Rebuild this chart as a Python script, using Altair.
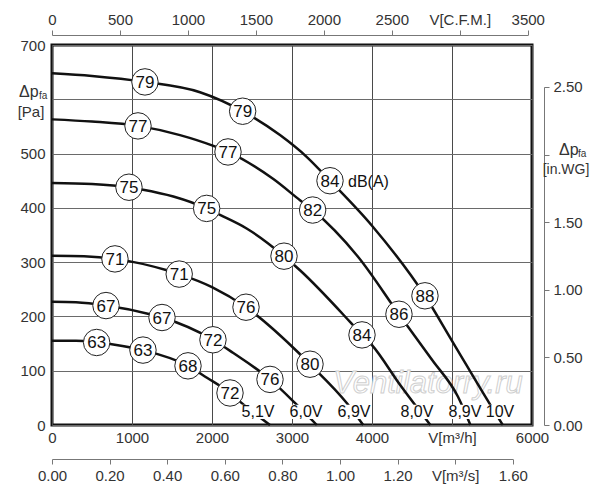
import altair as alt
import pandas as pd

FONT = "Liberation Sans"

# ---- fan curves: airflow Q [m3/h], static pressure P [Pa] ----
series_names = ["10V", "8,9V", "8,0V", "6,9V", "6,0V", "5,1V"]

q_10v = [0, 500, 1162, 1850, 2383, 2850, 3183, 3475, 4000, 4662, 5000, 5475, 5635]
p_10v = [648, 643, 632, 613, 578, 534, 494, 450, 367, 238, 155, 38, 0]

q_89v = [0, 500, 1075, 1600, 2000, 2200, 2767, 3100, 3258, 3825, 4337, 4750, 5075, 5230]
p_89v = [563, 559, 551, 534, 515, 503, 453, 414, 396, 310, 204, 120, 52, 0]

q_80v = [0, 500, 962, 1121, 1517, 1933, 2100, 2433, 2900, 3100, 3725, 3875, 4000, 4350, 4730]
p_80v = [446, 444, 438, 434, 421, 399, 387, 362, 311, 285, 190, 166, 147, 74, 0]

q_69v = [0, 400, 787, 1437, 1590, 2000, 2425, 3075, 3225, 3687, 3890]
p_69v = [312, 311, 306, 285, 278, 254, 217, 134, 112, 40, 0]

q_60v = [0, 300, 675, 1225, 1375, 2012, 2262, 2725, 3062, 3310]
p_60v = [227, 226, 220, 204, 198, 157, 133, 84, 37, 0]

q_51v = [0, 300, 558, 1137, 1700, 1937, 2225, 2350, 2725]
p_51v = [155, 155, 152, 138, 109, 87, 59, 43, 0]

curve_q = [q_10v, q_89v, q_80v, q_69v, q_60v, q_51v]
curve_p = [p_10v, p_89v, p_80v, p_69v, p_60v, p_51v]

# ---- noise level markers dB(A) on each curve ----
db_series = ["10V"] * 4 + ["8,9V"] * 4 + ["8,0V"] * 4 + ["6,9V"] * 4 + ["6,0V"] * 4 + ["5,1V"] * 4
db_values = [79, 79, 84, 88, 77, 77, 82, 86, 75, 75, 80, 84,
             71, 71, 76, 80, 67, 67, 72, 76, 63, 63, 68, 72]
db_q = [1162, 2383, 3475, 4662, 1075, 2200, 3258, 4337, 962, 1933, 2900, 3875,
        787, 1590, 2425, 3225, 675, 1375, 2012, 2725, 558, 1137, 1700, 2225]
db_p = [632, 578, 450, 238, 551, 503, 396, 204, 438, 399, 311, 166,
        306, 278, 217, 112, 220, 198, 157, 84, 152, 138, 109, 59]

# ---- voltage labels at curve ends ----
volt_labels = ["5,1V", "6,0V", "6,9V", "8,0V", "8,9V", "10V"]
volt_q = [2575, 3175, 3775, 4562, 5162, 5600]
volt_p = [24, 24, 24, 24, 24, 24]

# ---- axis tick values ----
x_ticks = [0, 1000, 2000, 3000, 4000, 5000, 6000]
y_ticks = [0, 100, 200, 300, 400, 500, 600, 700]
cfm_ticks = [0, 500, 1000, 1500, 2000, 2500, 3000, 3500]
ms_ticks = [0.0, 0.2, 0.4, 0.6, 0.8, 1.0, 1.2, 1.4, 1.6]
inwg_ticks = [0.0, 0.5, 1.0, 1.5, 2.0, 2.5]

# ---- build tables ----
rows = []
for name, qs, ps in zip(series_names, curve_q, curve_p):
    for i, (q, p) in enumerate(zip(qs, ps)):
        rows.append({"series": name, "Q": q, "P": p, "idx": i})
curves_df = pd.DataFrame(rows)
db_df = pd.DataFrame({"series": db_series, "dB": db_values, "Q": db_q, "P": db_p})
volt_df = pd.DataFrame({"label": volt_labels, "Q": volt_q, "P": volt_p})

W, H = 480, 380
X_MAX, Y_MAX = 6000, 700
CFM_TO_M3H = 1.699011
PA_PER_INWG = 249.089

xscale = alt.Scale(domain=[0, X_MAX], nice=False, zero=False)
yscale = alt.Scale(domain=[0, Y_MAX], nice=False, zero=False)

x_axis = alt.Axis(
    values=x_ticks, title=None, grid=True, gridColor="#4a4a4a", gridWidth=1, format="d",
    ticks=False, domain=False, labelPadding=5, labelFlush=False, labelOverlap=False,
    labelExpr="datum.value == 5000 ? 'V[m³/h]' : datum.label",
)
y_axis = alt.Axis(
    values=y_ticks, title=None, grid=True, gridColor="#6a6a6a", gridWidth=1, format="d",
    ticks=False, domain=False, labelPadding=7, labelFlush=False, labelOverlap=False,
    labelExpr="datum.value == 600 ? '' : datum.label",
)

watermark = alt.Chart(pd.DataFrame({"t": ["Ventilatorry.ru"]})).mark_text(
    font=FONT, fontSize=31, fontStyle="italic", fill="white", stroke="#cfcfcf",
    strokeWidth=1, align="center", baseline="middle",
).encode(x=alt.datum(4700), y=alt.datum(76), text="t:N")

curves = alt.Chart(curves_df).mark_line(
    color="#111", strokeWidth=2.5, interpolate="monotone"
).encode(
    x=alt.X("Q:Q", scale=xscale, axis=x_axis),
    y=alt.Y("P:Q", scale=yscale, axis=y_axis),
    detail="series:N",
    order="idx:Q",
)

circles = alt.Chart(db_df).mark_point(
    shape="circle", filled=True, fill="white", stroke="#222", strokeWidth=1,
    size=700, opacity=1, fillOpacity=1, strokeOpacity=1,
).encode(x="Q:Q", y="P:Q")

circle_text = alt.Chart(db_df).mark_text(
    font=FONT, fontSize=17, color="#111", align="center", baseline="middle", dy=1
).encode(x="Q:Q", y="P:Q", text="dB:N")

# white plate behind each voltage label, so the curve appears interrupted there
volt_plate = alt.Chart(volt_df).mark_point(
    shape="M-1,-0.42L1,-0.42L1,0.42L-1,0.42Z", filled=True, fill="white",
    strokeWidth=0, size=1150, opacity=1, fillOpacity=1,
).encode(x="Q:Q", y="P:Q")
volt_text = alt.Chart(volt_df).mark_text(
    font=FONT, fontSize=16, color="#111", align="center", baseline="middle",
).encode(x="Q:Q", y="P:Q", text="label:N")

dba_text = alt.Chart(pd.DataFrame({"t": ["dB(A)"]})).mark_text(
    font=FONT, fontSize=16, color="#111", align="left", baseline="middle",
).encode(x=alt.datum(3700), y=alt.datum(448), text="t:N")


def label(txt, x, y, size, align="center"):
    return alt.Chart(pd.DataFrame({"t": [txt]})).mark_text(
        font=FONT, fontSize=size, color="#333", align=align, baseline="middle",
    ).encode(x=alt.value(x), y=alt.value(y), text="t:N")


left_title = [
    label("Δp", -33, 47, 16, "left"),
    label("fa", -13, 51, 10, "left"),
    label("[Pa]", -21, 67, 15),
]
right_title = [
    label("Δp", 507, 105, 16, "left"),
    label("fa", 526, 109, 10, "left"),
    label("[in.WG]", 514, 125, 14),
]

main = alt.layer(
    watermark, curves, circles, circle_text, volt_plate, volt_text, dba_text,
    *left_title, *right_title,
)

sec_style = dict(
    title=None, grid=False, domainColor="#777", tickColor="#777", tickSize=5,
    labelFlush=False, labelOverlap=False,
)

top_axis = alt.Chart(pd.DataFrame({"cfm": cfm_ticks})).mark_point(opacity=0).encode(
    x=alt.X(
        "cfm:Q",
        scale=alt.Scale(domain=[0, 3500], range=[0, W * 3500 * CFM_TO_M3H / X_MAX], nice=False, zero=False),
        axis=alt.Axis(orient="top", offset=10, values=cfm_ticks, format="d", labelPadding=3,
                      labelExpr="datum.value == 3000 ? 'V[C.F.M.]' : datum.label", **sec_style),
    )
)

ms_axis = alt.Chart(pd.DataFrame({"ms": ms_ticks})).mark_point(opacity=0).encode(
    x=alt.X(
        "ms:Q",
        scale=alt.Scale(domain=[0, 1.6], range=[0, W * 1.6 * 3600 / X_MAX], nice=False, zero=False),
        axis=alt.Axis(orient="bottom", offset=34, values=ms_ticks, format=".2f", labelPadding=4,
                      labelExpr="abs(datum.value - 1.4) < 0.001 ? 'V[m³/s]' : datum.label", **sec_style),
    )
)

inwg_axis = alt.Chart(pd.DataFrame({"w": inwg_ticks})).mark_point(opacity=0).encode(
    y=alt.Y(
        "w:Q",
        scale=alt.Scale(domain=[0, 2.5], range=[H, H - H * 2.5 * PA_PER_INWG / Y_MAX], nice=False, zero=False),
        axis=alt.Axis(orient="right", offset=12, values=inwg_ticks, format=".2f", labelPadding=4,
                      labelExpr="datum.value == 2 ? '' : datum.label", **sec_style),
    )
)

chart = alt.layer(main, top_axis, ms_axis, inwg_axis).resolve_scale(
    x="independent", y="independent"
).properties(
    width=W, height=H,
    autosize=alt.AutoSizeParams(type="none"),
    padding={"left": 44, "top": 37, "right": 60, "bottom": 67},
    background="white",
).configure_view(
    stroke="#111", strokeWidth=3
).configure_axis(
    labelFont=FONT, labelFontSize=15, labelColor="#333",
)

chart.save("out.html", embed_options={"renderer": "svg", "actions": False})
